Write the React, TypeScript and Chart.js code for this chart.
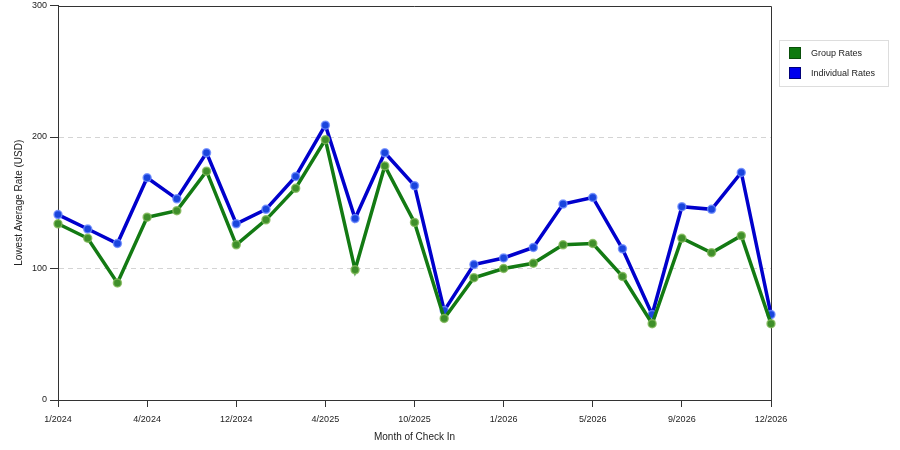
import { useEffect, useRef } from 'react';
import { Chart, registerables } from 'chart.js';

Chart.register(...registerables);

// Only every third month is labelled on the axis
const months = [
  '1/2024', '', '', '4/2024', '', '', '12/2024', '', '', '4/2025', '', '', '10/2025',
  '', '', '1/2026', '', '', '5/2026', '', '', '9/2026', '', '', '12/2026',
];
const groupRates = [
  134, 123, 89, 139, 144, 174, 118, 137, 161, 198, 99, 178, 135,
  62, 93, 100, 104, 118, 119, 94, 58, 123, 112, 125, 58,
];
const individualRates = [
  141, 130, 119, 169, 153, 188, 134, 145, 170, 209, 138, 188, 163,
  68, 103, 108, 116, 149, 154, 115, 65, 147, 145, 173, 65,
];
const seriesNames = ['Group Rates', 'Individual Rates'];
const yTicks = [0, 100, 200, 300];

const FONT = '"Liberation Sans", Arial, sans-serif';

// top and right edges of the plot box (left/bottom come from the axes)
const frame = {
  id: 'frame',
  beforeDatasetsDraw(chart: Chart) {
    const { ctx, chartArea } = chart;
    const top = Math.round(chartArea.top) + 0.5;
    const right = Math.round(chartArea.right) + 0.5;
    ctx.save();
    ctx.strokeStyle = '#333';
    ctx.lineWidth = 1;
    ctx.beginPath();
    ctx.moveTo(chartArea.left, top);
    ctx.lineTo(right, top);
    ctx.lineTo(right, chartArea.bottom);
    ctx.stroke();
    ctx.restore();
  },
};

function RateChart() {
  const chartRef = useRef<HTMLCanvasElement>(null);
  const chartInstance = useRef<Chart | null>(null);

  useEffect(() => {
    if (!chartRef.current) return;
    if (chartInstance.current) chartInstance.current.destroy();

    const ctx = chartRef.current.getContext('2d');
    if (!ctx) return;

    chartInstance.current = new Chart(ctx, {
      type: 'line',
      data: {
        labels: months,
        datasets: [
          {
            label: seriesNames[0],
            data: groupRates,
            borderColor: '#137a13',
            borderWidth: 3.5,
            pointRadius: 4,
            pointBackgroundColor: '#3f8f2a',
            pointBorderColor: 'rgba(130,185,90,0.8)',
            pointBorderWidth: 1.5,
            tension: 0,
            clip: false,
          },
          {
            label: seriesNames[1],
            data: individualRates,
            borderColor: '#0000cc',
            borderWidth: 3.5,
            pointRadius: 4,
            pointBackgroundColor: '#1a45dd',
            pointBorderColor: 'rgba(110,140,255,0.8)',
            pointBorderWidth: 1.5,
            tension: 0,
            clip: false,
          },
        ],
      },
      options: {
        responsive: false,
        animation: false,
        layout: { padding: { top: 5, right: 129, left: 0, bottom: 0 } },
        plugins: {
          legend: { display: false },
          tooltip: { enabled: false },
        },
        scales: {
          x: {
            offset: false,
            afterFit: (scale: any) => {
              scale.height = 50;
            },
            grid: {
              drawOnChartArea: false,
              tickLength: 7,
              tickColor: (c: any) => (months[c.index] ? '#333' : 'transparent'),
            },
            border: { display: true, color: '#333' },
            ticks: {
              autoSkip: false,
              maxRotation: 0,
              padding: 7,
              color: '#222',
              font: { family: FONT, size: 9 },
              callback: (_v: any, i: number) => months[i],
            },
            title: {
              display: true,
              text: 'Month of Check In',
              color: '#222',
              font: { family: FONT, size: 10 },
              padding: { top: 0, bottom: 7 },
            },
          },
          y: {
            min: 0,
            max: 300,
            afterFit: (scale: any) => {
              scale.width = 58;
              scale.paddingTop = 0;
              scale.paddingBottom = 0;
            },
            afterBuildTicks: (scale: any) => {
              scale.ticks = yTicks.map((v) => ({ value: v }));
            },
            grid: {
              color: (c: any) =>
                c.tick && c.tick.value > 0 && c.tick.value < 300 ? '#d4d4d4' : 'transparent',
              tickColor: '#333',
              tickLength: 8,
            },
            border: { display: true, color: '#333', dash: [5, 4] },
            ticks: {
              padding: 3,
              color: '#222',
              font: { family: FONT, size: 9 },
            },
            title: {
              display: true,
              text: 'Lowest Average Rate (USD)',
              color: '#222',
              font: { family: FONT, size: 10 },
              padding: { top: 13, bottom: 0 },
            },
          },
        },
      },
      plugins: [frame],
    });

    return () => {
      if (chartInstance.current) {
        chartInstance.current.destroy();
        chartInstance.current = null;
      }
    };
  }, []);

  const swatches = [
    { bg: '#0f7a0f', border: '#0a4f0a' },
    { bg: '#0000ee', border: '#00007a' },
  ];

  return (
    <div style={{ position: 'fixed', left: 0, top: 0, width: 900, height: 450, background: '#fff' }}>
      <canvas ref={chartRef} width={900} height={450} />
      <div
        style={{
          position: 'absolute',
          left: 779,
          top: 40,
          width: 108,
          height: 45,
          border: '1px solid #dddddd',
          fontFamily: FONT,
          fontSize: 9,
          color: '#222',
        }}
      >
        {seriesNames.map((name, i) => (
          <div
            key={name}
            style={{ position: 'absolute', left: 9, top: 6 + i * 20, display: 'flex', alignItems: 'center' }}
          >
            <span
              style={{
                display: 'inline-block',
                width: 10,
                height: 10,
                background: swatches[i].bg,
                border: `1px solid ${swatches[i].border}`,
                marginRight: 10,
              }}
            />
            <span>{name}</span>
          </div>
        ))}
      </div>
    </div>
  );
}

export default function App() {
  return <RateChart />;
}
